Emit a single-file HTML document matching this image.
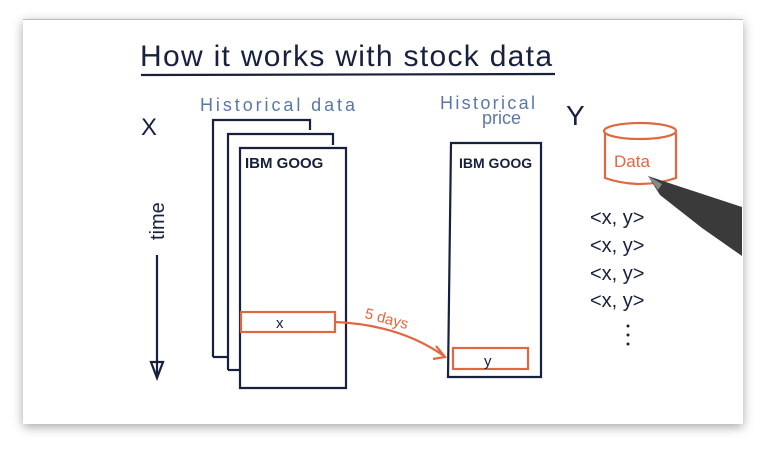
<!DOCTYPE html>
<html><head><style>
html,body{margin:0;padding:0;background:#fff;}
body{width:765px;height:451px;position:relative;overflow:hidden;font-family:"Liberation Sans",sans-serif;}
.card{position:absolute;left:23px;top:19px;width:720px;height:404px;background:#fff;box-shadow:0 3px 10px rgba(0,0,0,0.35);border-top:1px solid #bbb;}
</style></head><body>
<div class="card"></div>
<svg width="765" height="451" style="position:absolute;left:0;top:0" font-family="Liberation Sans, sans-serif">
<g fill="none" stroke="#17203d" stroke-width="2.2">
<text x="140" y="66" font-size="30" fill="#17203d" stroke="none" textLength="412">How it works with stock data</text>
<line x1="141" y1="75" x2="555" y2="74"/>
<text x="141" y="135" font-size="24" fill="#17203d" stroke="none">X</text>
<text x="566" y="125" font-size="28" fill="#17203d" stroke="none">Y</text>
<path d="M213 357 V120 H310 V130"/>
<path d="M213 357 H228"/>
<path d="M228 370 V134 H333 V145"/>
<path d="M228 370 H240"/>
<path d="M240 148 H346 V388 H240 Z"/>
<text x="245" y="168" font-size="15" font-weight="bold" fill="#17203d" stroke="none">IBM GOOG</text>
<path d="M451 143 H541 V377 H448 Z"/>
<text x="459" y="168" font-size="14" font-weight="bold" fill="#17203d" stroke="none">IBM GOOG</text>
<line x1="157" y1="255" x2="157" y2="375"/>
<path d="M151 362 L157 378 L163 362 Z"/>
<text transform="translate(164,240) rotate(-90)" font-size="20" fill="#17203d" stroke="none">time</text>
</g>
<g fill="#5a77a8" font-size="18">
<text x="200" y="111" textLength="155">Historical data</text>
<text x="440" y="109" textLength="95">Historical</text>
<text x="482" y="124">price</text>
</g>
<g fill="none" stroke="#e0673f" stroke-width="2.2">
<rect x="241" y="312" width="94" height="20"/>
<rect x="453" y="348" width="75" height="21"/>
<path d="M336 322 Q400 325 444 356"/>
<path d="M436 346 L445 357 L433 359"/>
<path d="M605 133 V178 Q640 190 676 178 V133"/>
<ellipse cx="640" cy="131" rx="36" ry="8"/>
</g>
<g fill="#e0673f" font-size="15">
<text x="364" y="322" transform="rotate(15 380 320)">5 days</text>
<text x="614" y="167" font-size="17">Data</text>
</g>
<text x="276" y="328" font-size="15" fill="#17203d">x</text>
<text x="484" y="366" font-size="15" fill="#17203d">y</text>
<g fill="#17203d" font-size="20">
<text x="590" y="224">&lt;x, y&gt;</text>
<text x="590" y="252">&lt;x, y&gt;</text>
<text x="590" y="280">&lt;x, y&gt;</text>
<text x="590" y="307">&lt;x, y&gt;</text>
<circle cx="628" cy="326" r="1.5"/><circle cx="628" cy="335" r="1.5"/><circle cx="628" cy="344" r="1.5"/>
</g>
<path d="M648 176 L675 185 L742 207 L742 256 L702 228 L660 195 Z" fill="#3a3a3a"/>
<path d="M648 176 L662 184 L658 190 Z" fill="#888"/>
</svg>
</body></html>
